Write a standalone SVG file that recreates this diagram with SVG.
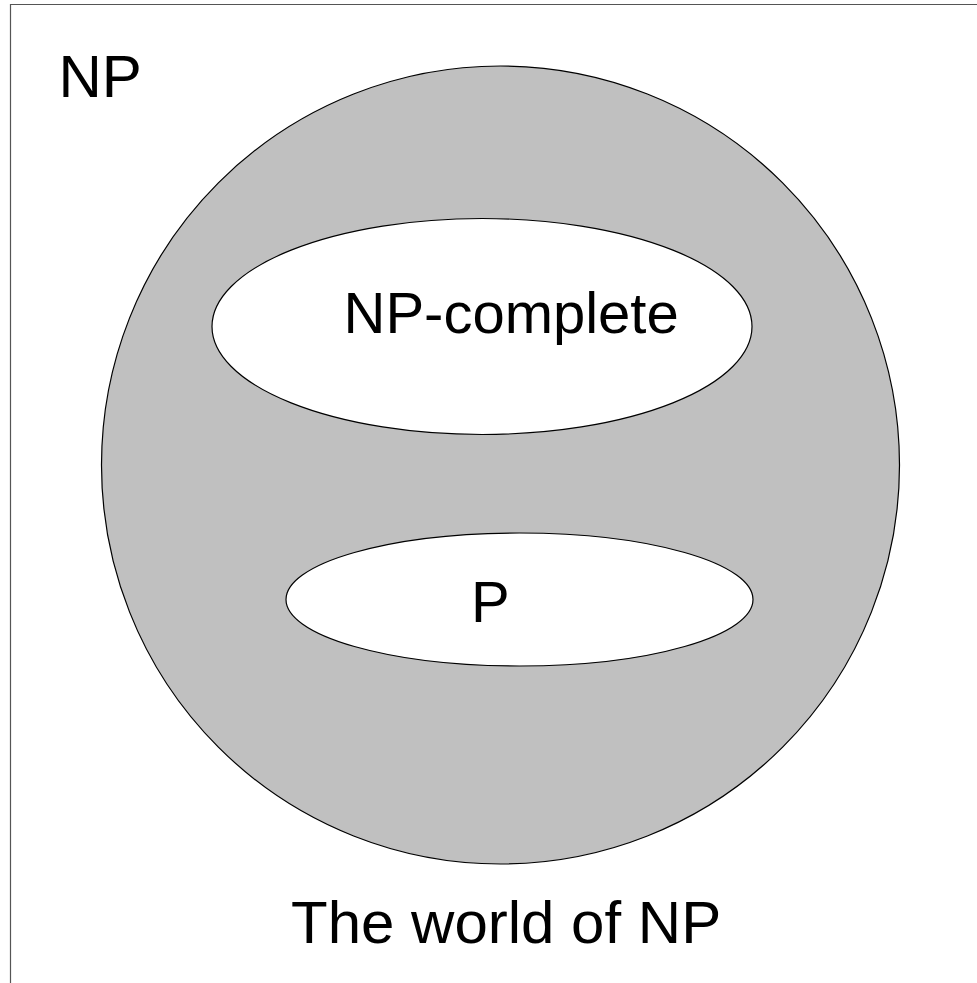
<svg xmlns="http://www.w3.org/2000/svg" width="977" height="983" viewBox="0 0 977 983">
<style>
text{font-family:"Liberation Sans",Arial,sans-serif;fill:#000}
.sh{stroke:#000;stroke-width:1.2}
</style>
<rect width="977" height="983" fill="#fff"/>
<g id="frame"><path d="M10.5 983 V4.5 H977" fill="none" stroke="#555" stroke-width="1.2"/></g>
<g id="np">
<circle class="sh" cx="500.5" cy="465" r="399" fill="#c0c0c0"/>
<text x="58.5" y="97" font-size="60">NP</text>
</g>
<g id="npc">
<ellipse class="sh" cx="482" cy="326.5" rx="270" ry="108" fill="#fff"/>
<text x="343.5" y="333" font-size="58">NP-complete</text>
</g>
<g id="p">
<ellipse class="sh" cx="519.5" cy="599.5" rx="233.5" ry="66.5" fill="#fff"/>
<text x="471" y="622" font-size="58">P</text>
</g>
<g id="caption"><text x="291" y="943" font-size="60">The world of NP</text></g>
<g id="connectors"/>
</svg>
